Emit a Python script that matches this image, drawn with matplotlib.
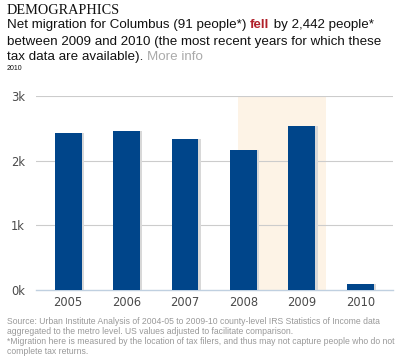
import matplotlib
matplotlib.use("Agg")
import matplotlib.pyplot as plt

# data (net migration, people)
years = ["2005", "2006", "2007", "2008", "2009", "2010"]
migration = [2431, 2457, 2329, 2159, 2533, 91]
y_ticks = [0, 1000, 2000, 3000]
y_labels = ["0k", "1k", "2k", "3k"]

W, H = 400, 357
fig = plt.figure(figsize=(W / 100, H / 100), dpi=100)
fig.patch.set_facecolor("white")

def fy(px):
    return 1 - px / H

ax = fig.add_axes([36 / W, fy(290), (393 - 36) / W, (290 - 96) / H])
x = list(range(len(years)))

# highlighted band behind 2008-2009
ax.axvspan(2.9, 4.41, color="#fdf3e6", zorder=0, lw=0)
for v in y_ticks[1:]:
    ax.axhline(v, color="#cccccc", lw=0.8, zorder=1)

# faint shadow then bars
ax.bar([i + 0.04 for i in x], migration, width=0.46, color="#d8d8d8", zorder=2)
ax.bar(x, migration, width=0.46, color="#00458a", zorder=3)

ax.set_xlim(-0.55, 5.56)
ax.set_ylim(0, 3000)
ax.set_yticks(y_ticks)
ax.set_yticklabels(y_labels)
ax.set_xticks(x)
ax.set_xticklabels(years)
ax.tick_params(axis="both", length=0, labelsize=8.3, labelcolor="#4a4a4a")
ax.tick_params(axis="y", pad=8)
ax.tick_params(axis="x", pad=4)
for s in ["top", "right", "left"]:
    ax.spines[s].set_visible(False)
ax.spines["bottom"].set_color("#c0d0e0")
ax.spines["bottom"].set_linewidth(1)
ax.set_facecolor("none")

# header
fig.text(7 / W, fy(10), "DEMOGRAPHICS", family="Liberation Serif", fontsize=10.3,
         va="center", ha="left", color="#111111")

body = dict(family="Liberation Sans", fontsize=9.6, va="center", ha="left")
r = fig.canvas.get_renderer()
t1 = fig.text(7 / W, fy(25), "Net migration for Columbus (91 people*) ", color="#111111", **body)
bb = t1.get_window_extent(r)
t2 = fig.text(bb.x1 / W, fy(25), "fell", color="#b0202a", weight="bold", **body)
bb = t2.get_window_extent(r)
fig.text(bb.x1 / W, fy(25), " by 2,442 people*", color="#111111", **body)
fig.text(7 / W, fy(42), "between 2009 and 2010 (the most recent years for which these",
         color="#111111", **body)
t3 = fig.text(7 / W, fy(57), "tax data are available). ", color="#111111", **body)
bb = t3.get_window_extent(r)
fig.text(bb.x1 / W, fy(57), "More info", color="#aaaaaa", **body)
fig.text(7 / W, fy(69), "2010", family="Liberation Sans", fontsize=5,
         va="center", ha="left", color="#111111")

# source notes
notes = [
    "Source: Urban Institute Analysis of 2004-05 to 2009-10 county-level IRS Statistics of Income data",
    "aggregated to the metro level. US values adjusted to facilitate comparison.",
    "*Migration here is measured by the location of tax filers, and thus may not capture people who do not",
    "complete tax returns.",
]
for i, line in enumerate(notes):
    fig.text(7 / W, fy(322 + i * 9.8), line, family="Liberation Sans", fontsize=6.2,
             va="center", ha="left", color="#999999")

fig.savefig("out.png", dpi=100, facecolor="white")
